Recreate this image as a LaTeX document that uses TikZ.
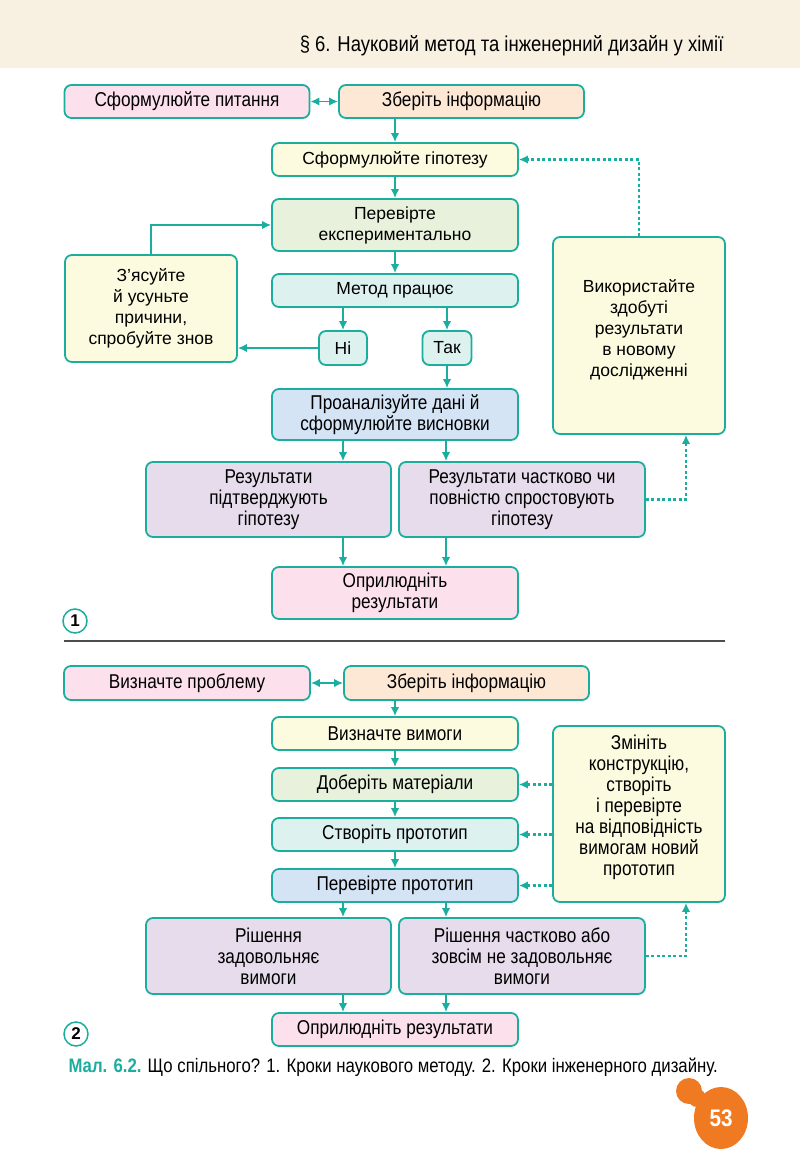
\documentclass[tikz,border=0pt]{standalone}
\usepackage{fontspec}
\setmainfont{Liberation Sans}
\newfontfamily\narrowf[FakeStretch=0.86]{Liberation Sans}
\usetikzlibrary{arrows.meta}
\definecolor{tealc}{HTML}{1BAE9E}
\definecolor{pinkc}{HTML}{FCE1EC}
\definecolor{peachc}{HTML}{FDE8D5}
\definecolor{yelc}{HTML}{FDFBDF}
\definecolor{grnc}{HTML}{E7F1DB}
\definecolor{ltealc}{HTML}{DDF1EF}
\definecolor{bluec}{HTML}{D4E4F5}
\definecolor{lavc}{HTML}{E6DCEC}
\definecolor{hdrc}{HTML}{F8F0E1}
\definecolor{orangec}{HTML}{F07A22}
\begin{document}
\begin{tikzpicture}[x=1pt,y=-1pt,
  box/.style={draw=tealc, line width=1.8pt, rounded corners=7pt, align=center, inner sep=1pt, text=black, font=\fontsize{17.5}{21}\selectfont},
  nbox/.style={box, font=\narrowf\fontsize{20}{21}\selectfont},
  wide/.style={minimum width=246pt},
  arr/.style={draw=tealc, line width=1.8pt, -{Latex[length=9pt,width=8.5pt]}},
  dbl/.style={draw=tealc, line width=1.8pt, {Latex[length=9pt,width=8.5pt]}-{Latex[length=9pt,width=8.5pt]}},
  darr/.style={draw=tealc, line width=2.2pt, dash pattern=on 3pt off 2.5pt, -{Latex[length=9pt,width=8.5pt]}},
  numc/.style={circle, draw=tealc, line width=1.5pt, minimum size=24pt, inner sep=0pt, font=\bfseries\fontsize{17}{17}\selectfont}
]
\useasboundingbox (0,0) rectangle (800,1158);
\fill[white] (0,0) rectangle (800,1158);
\fill[hdrc] (0,0) rectangle (800,68);
\node[anchor=east, font=\narrowf\fontsize{21.5}{24}\selectfont] (hdr) at (727,46) {§ 6. Науковий метод та інженерний дизайн у хімії};

\coordinate (xl) at (343,0);
\coordinate (xr) at (446,0);

% ---------- Part 1
\node[nbox, fill=pinkc, minimum width=245pt, minimum height=33pt] (q1) at (187,101.5) {Сформулюйте питання};
\node[nbox, fill=peachc, minimum width=245pt, minimum height=33pt] (z1) at (461.5,101.5) {Зберіть інформацію};
\node[box, wide, fill=yelc, minimum height=33pt] (h1) at (395,159.5) {Сформулюйте гіпотезу};
\node[box, wide, fill=grnc, minimum height=52pt] (e1) at (395,225) {Перевірте\\експериментально};
\node[box, wide, fill=ltealc, minimum height=33pt] (m1) at (395,290.5) {Метод працює};
\node[box, fill=ltealc, minimum width=48pt, minimum height=34pt] (ni) at (343,348) {Ні};
\node[box, fill=ltealc, minimum width=49pt, minimum height=34pt] (tak) at (447,348) {Так};
\node[box, fill=yelc, minimum width=172pt, minimum height=107pt] (c1) at (151,308.5) {З’ясуйте\\й усуньте\\причини,\\спробуйте знов};
\node[nbox, wide, fill=bluec, minimum height=51pt] (a1) at (395,414.5) {Проаналізуйте дані й\\сформулюйте висновки};
\node[nbox, fill=lavc, minimum width=245pt, minimum height=75pt] (r1) at (268.5,499.5) {Результати\\підтверджують\\гіпотезу};
\node[nbox, wide, fill=lavc, minimum height=75pt] (r2) at (522,499.5) {Результати частково чи\\повністю спростовують\\гіпотезу};
\node[nbox, wide, fill=pinkc, minimum height=52pt] (p1) at (395,593) {Оприлюдніть\\результати};
\node[box, fill=yelc, minimum width=172pt, minimum height=197pt] (u1) at (639,335.5) {Використайте\\здобуті\\результати\\в новому\\дослідженні\\[-7pt]\mbox{}};

\draw[dbl] (q1) -- (z1);
\draw[arr] (h1.north |- z1.south) -- (h1.north);
\draw[arr] (h1) -- (e1);
\draw[arr] (e1) -- (m1);
\draw[arr] (ni.north |- m1.south) -- (ni.north);
\draw[arr] (tak.north |- m1.south) -- (tak.north);
\draw[arr] (ni.west) -- (ni.west -| c1.east);
\draw[arr] (c1.north) |- (e1.west);
\draw[arr] (tak.south) -- (tak.south |- a1.north);
\draw[arr] (xl |- a1.south) -- (xl |- r1.north);
\draw[arr] (xr |- a1.south) -- (xr |- r2.north);
\draw[arr] (xl |- r1.south) -- (xl |- p1.north);
\draw[arr] (xr |- r2.south) -- (xr |- p1.north);
\draw[darr] (r2.east) -| ([xshift=47pt]u1.south);
\draw[darr] (u1.north) |- (h1.east);

\node[numc] (num1) at (75,621) {1};
\draw[line width=1.1pt, black!70] (64,641) -- (725,641);

% ---------- Part 2
\node[nbox, wide, fill=pinkc, minimum height=34pt] (q2) at (187,683) {Визначте проблему};
\node[nbox, minimum width=245pt, fill=peachc, minimum height=34pt] (z2) at (466.5,683) {Зберіть інформацію};
\node[nbox, wide, fill=yelc, minimum height=33pt] (v2) at (395,733.5) {Визначте вимоги};
\node[nbox, wide, fill=grnc, minimum height=33pt] (d2) at (395,784.5) {Доберіть матеріали};
\node[nbox, wide, fill=ltealc, minimum height=33pt] (s2) at (395,834.5) {Створіть прототип};
\node[nbox, wide, fill=bluec, minimum height=33pt] (t2) at (395,885.5) {Перевірте прототип};
\node[nbox, fill=yelc, minimum width=172pt, minimum height=176pt] (w2) at (639,814) {Змініть\\конструкцію,\\створіть\\і перевірте\\на відповідність\\вимогам новий\\прототип\\[-3pt]\mbox{}};
\node[nbox, fill=lavc, minimum width=245pt, minimum height=76pt] (k2) at (268.5,956) {Рішення\\задовольняє\\вимоги};
\node[nbox, wide, fill=lavc, minimum height=76pt] (n2) at (522,956) {Рішення частково або\\зовсім не задовольняє\\вимоги};
\node[nbox, wide, fill=pinkc, minimum height=33pt] (o2) at (395,1029.5) {Оприлюдніть результати};

\draw[dbl] (q2) -- (z2);
\draw[arr] (v2.north |- z2.south) -- (v2.north);
\draw[arr] (v2) -- (d2);
\draw[arr] (d2) -- (s2);
\draw[arr] (s2) -- (t2);
\draw[darr] (w2.west |- d2.east) -- (d2.east);
\draw[darr] (w2.west |- s2.east) -- (s2.east);
\draw[darr] (w2.west |- t2.east) -- (t2.east);
\draw[arr] (xl |- t2.south) -- (xl |- k2.north);
\draw[arr] (xr |- t2.south) -- (xr |- n2.north);
\draw[arr] (xl |- k2.south) -- (xl |- o2.north);
\draw[arr] (xr |- n2.south) -- (xr |- o2.north);
\draw[darr] (n2.east) -| ([xshift=47pt]w2.south);

\node[numc] (num2) at (76,1034) {2};

\node[anchor=west, font=\narrowf\fontsize{19.5}{22}\selectfont] (cap) at (65,1067) {\textcolor{tealc}{\bfseries Мал. 6.2.} Що спільного? 1. Кроки наукового методу. 2. Кроки інженерного дизайну.};

% page number
\fill[orangec] (721,1118) ellipse [x radius=27pt, y radius=31pt];
\fill[orangec] (689,1091) circle (13pt);
\fill[orangec] (697,1098) circle (9pt);
\node[text=white, font=\narrowf\bfseries\fontsize{24}{24}\selectfont] (pg) at (721,1118) {53};
\end{tikzpicture}
\end{document}
